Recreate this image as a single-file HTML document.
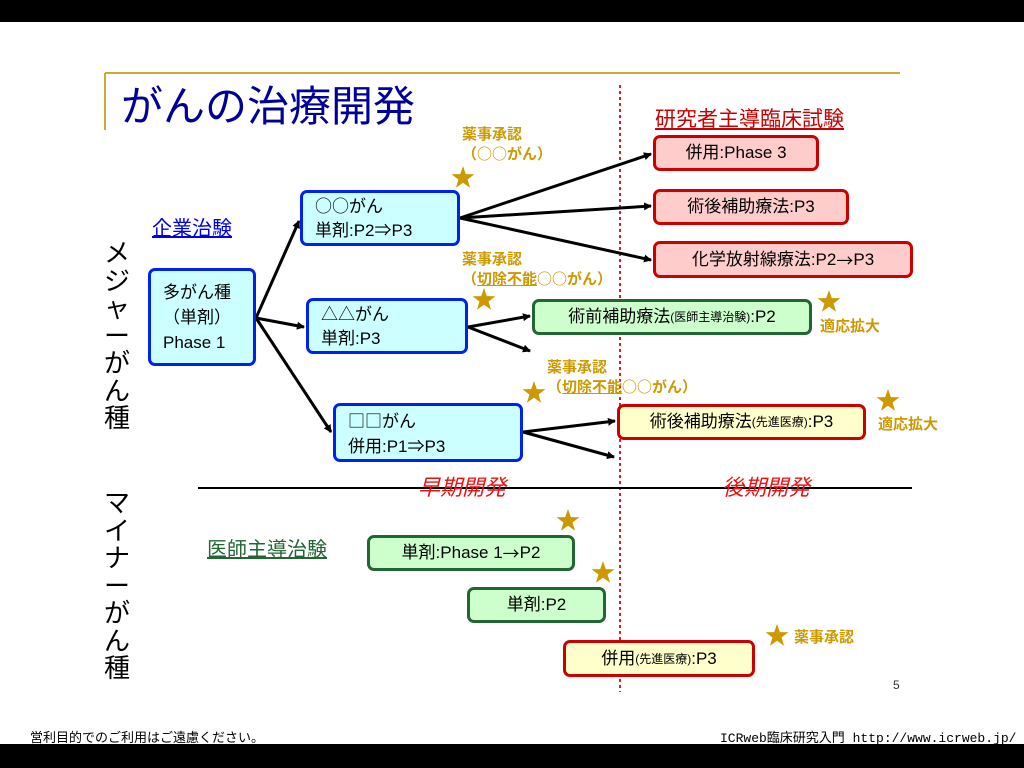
<!DOCTYPE html>
<html><head><meta charset="utf-8"><style>
*{margin:0;padding:0;box-sizing:border-box}
body{width:1024px;height:768px;position:relative;background:#fff;overflow:hidden;font-family:"Liberation Sans","Noto Sans CJK JP",sans-serif;}
.a{position:absolute;white-space:nowrap}
.j{font-family:"Noto Sans CJK JP",sans-serif}
.b{position:absolute;border:3px solid;border-radius:7px;font-size:17px;color:#000;line-height:22px;display:flex;align-items:center;justify-content:center}
.cy{background:#ccffff;border-color:#0022ee}
.pk{background:#ffcccc;border-color:#cc0000}
.gr{background:#ccffcc;border-color:#226633}
.yl{background:#ffffcc;border-color:#cc0000}
.gold{color:#cc9900;font-weight:bold;font-size:15px;line-height:19px}
.sm{font-size:12px}
.v{font-size:26px;line-height:27.5px;width:30px;text-align:center;color:#000}
</style></head><body>
<div class="a" style="left:0;top:0;width:1024px;height:22px;background:#000"></div>
<div class="a" style="left:0;top:744px;width:1024px;height:24px;background:#000"></div>
<svg class="a" style="left:0;top:0" width="1024" height="768">
<defs><marker id="ar" markerWidth="8" markerHeight="8" refX="7" refY="4" orient="auto" markerUnits="userSpaceOnUse" viewBox="0 0 8 8"><path d="M0,0L8,4L0,8z" fill="#000"/></marker>
<symbol id="st" viewBox="-10 -10 20 20"><path d="M0,-10L2.35,-3.2L9.5,-3.1L3.8,1.2L5.9,8.1L0,4L-5.9,8.1L-3.8,1.2L-9.5,-3.1L-2.35,-3.2z" fill="#cc9900"/></symbol></defs>
<line x1="105" y1="73" x2="900" y2="73" stroke="#ccaa33" stroke-width="2"/>
<line x1="105" y1="73" x2="105" y2="130" stroke="#ccaa33" stroke-width="2"/>
<line x1="620" y1="85" x2="620" y2="692" stroke="#e02020" stroke-width="2" stroke-dasharray="3,3"/>
<line x1="198" y1="488" x2="912" y2="488" stroke="#000" stroke-width="2"/>
<g stroke="#000" stroke-width="3" marker-end="url(#ar)">
<line x1="256" y1="318" x2="299" y2="221"/>
<line x1="256" y1="318" x2="304" y2="327"/>
<line x1="256" y1="318" x2="331" y2="432"/>
<line x1="460" y1="218" x2="651" y2="154"/>
<line x1="460" y1="218" x2="651" y2="206"/>
<line x1="460" y1="218" x2="651" y2="260"/>
<line x1="468" y1="327" x2="530" y2="316"/>
<line x1="468" y1="327" x2="530" y2="351"/>
<line x1="523" y1="432" x2="615" y2="421"/>
<line x1="523" y1="432" x2="614" y2="457"/>
</g>
<use href="#st" x="451" y="166" width="24" height="24"/>
<use href="#st" x="472" y="288" width="24" height="24"/>
<use href="#st" x="522" y="381" width="24" height="24"/>
<use href="#st" x="817" y="290" width="24" height="24"/>
<use href="#st" x="876" y="389" width="24" height="24"/>
<use href="#st" x="556" y="509" width="24" height="24"/>
<use href="#st" x="591" y="561" width="24" height="24"/>
<use href="#st" x="765" y="624" width="24" height="24"/>
</svg>
<div class="a" style="left:121px;top:82px;font-size:42px;color:#000099;line-height:50px">がんの治療開発</div>
<div class="a" style="left:655px;top:103px;font-size:21px;color:#cc0000;text-decoration:underline">研究者主導臨床試験</div>
<div class="a" style="left:152px;top:212px;font-size:20px;color:#0000ee;text-decoration:underline">企業治験</div>
<div class="a" style="left:207px;top:533px;font-size:20px;color:#226633;text-decoration:underline">医師主導治験</div>
<div class="a v" style="left:102px;top:240px">メ<br>ジ<br>ャ<br>ー<br>が<br>ん<br>種</div>
<div class="a v" style="left:102px;top:490px">マ<br>イ<br>ナ<br>ー<br>が<br>ん<br>種</div>
<div class="a" style="left:418px;top:470px;font-size:22px;color:#ee1111;font-style:italic">早期開発</div>
<div class="a" style="left:722px;top:470px;font-size:22px;color:#ee1111;font-style:italic">後期開発</div>
<div class="a gold" style="left:462px;top:125px">薬事承認<br><span class="j">（○○がん）</span></div>
<div class="a gold" style="left:462px;top:250px">薬事承認<br><span class="j">（<u>切除不能</u>○○がん）</span></div>
<div class="a gold" style="left:547px;top:358px">薬事承認<br><span class="j">（<u>切除不能</u>○○がん）</span></div>
<div class="a gold" style="left:820px;top:317px">適応拡大</div>
<div class="a gold" style="left:878px;top:415px">適応拡大</div>
<div class="a gold" style="left:794px;top:628px">薬事承認</div>
<div class="b cy" style="left:148px;top:268px;width:108px;height:98px;flex-direction:column;align-items:flex-start;padding-left:12px;line-height:25px">多がん種<br>（単剤）<br>Phase 1</div>
<div class="b cy" style="left:300px;top:190px;width:160px;height:56px;justify-content:flex-start;padding-left:12px;line-height:24px"><span><span class="j">○○</span>がん<br>単剤:P2⇒P3</span></div>
<div class="b cy" style="left:306px;top:298px;width:162px;height:56px;justify-content:flex-start;padding-left:12px;line-height:24px"><span><span class="j">△△</span>がん<br>単剤:P3</span></div>
<div class="b cy" style="left:333px;top:403px;width:190px;height:59px;justify-content:flex-start;padding-left:12px;line-height:25px"><span><span class="j">□□</span>がん<br>併用:P1⇒P3</span></div>
<div class="b pk" style="left:653px;top:135px;width:166px;height:36px">併用:Phase 3</div>
<div class="b pk" style="left:653px;top:189px;width:196px;height:36px">術後補助療法:P3</div>
<div class="b pk" style="left:653px;top:241px;width:260px;height:37px">化学放射線療法:P2<span class="j">→</span>P3</div>
<div class="b gr" style="left:532px;top:299px;width:280px;height:36px">術前補助療法<span class="sm">(医師主導治験)</span>:P2</div>
<div class="b yl" style="left:617px;top:404px;width:249px;height:36px">術後補助療法<span class="sm">(先進医療)</span>:P3</div>
<div class="b gr" style="left:367px;top:535px;width:208px;height:36px">単剤:Phase 1<span class="j">→</span>P2</div>
<div class="b gr" style="left:467px;top:587px;width:139px;height:36px">単剤:P2</div>
<div class="b yl" style="left:563px;top:640px;width:192px;height:37px">併用<span class="sm">(先進医療)</span>:P3</div>
<div class="a" style="left:893px;top:678px;font-size:12px;color:#333">5</div>
<div class="a" style="left:30px;top:727px;font-size:13px;color:#000">営利目的でのご利用はご遠慮ください。</div>
<div class="a" style="left:720px;top:727px;font-size:13px;color:#000;font-family:'Liberation Mono','Noto Sans CJK JP',monospace">ICRweb臨床研究入門 http://www.icrweb.jp/</div>
</body></html>
